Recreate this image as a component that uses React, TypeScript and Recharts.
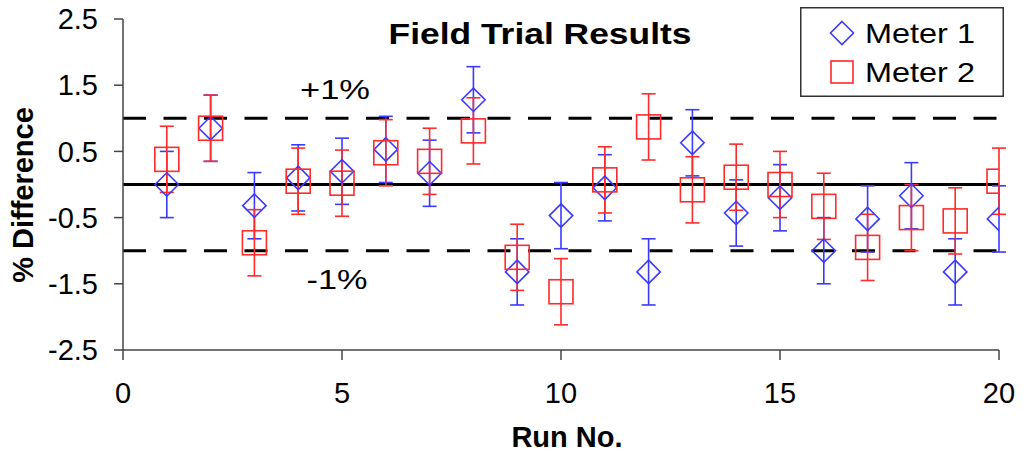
import React from 'react';
import {
  ScatterChart,
  Scatter,
  XAxis,
  YAxis,
  ReferenceLine,
  ErrorBar,
  Legend,
  Customized,
} from 'recharts';

const runs = [1, 2, 3, 4, 5, 6, 7, 8, 9, 10, 11, 12, 13, 14, 15, 16, 17, 18, 19, 20];
const meter1 = [0.0, 0.85, -0.32, 0.1, 0.2, 0.53, 0.17, 1.28, -1.32, -0.47, -0.05, -1.32, 0.63, -0.43, -0.2, -1.0, -0.52, -0.17, -1.32, -0.52];
const meter2 = [0.38, 0.85, -0.88, 0.05, 0.02, 0.48, 0.35, 0.81, -1.1, -1.62, 0.07, 0.87, -0.08, 0.11, 0.0, -0.33, -0.95, -0.5, -0.55, 0.05];
const err1 = [0.5, 0.5, 0.5, 0.5, 0.5, 0.5, 0.5, 0.5, 0.5, 0.5, 0.5, 0.5, 0.5, 0.5, 0.5, 0.5, 0.5, 0.5, 0.5, 0.5];
const err2 = [0.5, 0.5, 0.5, 0.5, 0.5, 0.5, 0.5, 0.5, 0.5, 0.5, 0.5, 0.5, 0.5, 0.5, 0.5, 0.5, 0.5, 0.5, 0.5, 0.5];
const xTicks = [0, 5, 10, 15, 20];
const yTicks = [-2.5, -1.5, -0.5, 0.5, 1.5, 2.5];
const limitLines = [1, -1];
const seriesNames = ['Meter 1', 'Meter 2'];

const BLUE = '#3a3aff';
const RED = '#ff2a2a';
const FONT = '"Liberation Sans", Arial, sans-serif';

const data1 = runs.map((r, i) => ({ run: r, value: meter1[i], err: err1[i] }));
const data2 = runs.map((r, i) => ({ run: r, value: meter2[i], err: err2[i] }));

const Diamond = (props: any) => {
  const { cx, cy } = props;
  if (cx == null || cy == null) return null;
  const s = 11.7;
  return (
    <path
      d={`M${cx},${cy - s}L${cx + s},${cy}L${cx},${cy + s}L${cx - s},${cy}Z`}
      fill="none"
      stroke={BLUE}
      strokeWidth={1.6}
    />
  );
};

const Square = (props: any) => {
  const { cx, cy } = props;
  if (cx == null || cy == null) return null;
  const s = 12;
  return <rect x={cx - s} y={cy - s} width={2 * s} height={2 * s} fill="none" stroke={RED} strokeWidth={1.6} />;
};

const LegendBox = () => (
  <svg width={204} height={90} style={{ display: 'block' }}>
    <rect x={0.75} y={0.75} width={202.5} height={88.5} fill="#fff" stroke="#333" strokeWidth={1.5} />
    <path d="M42,14.5L53.5,26L42,37.5L30.5,26Z" fill="none" stroke={BLUE} strokeWidth={1.6} />
    <text x={65} y={36} fontFamily={FONT} fontSize={28} fill="#000" textLength={110} lengthAdjust="spacingAndGlyphs">
      {seriesNames[0]}
    </text>
    <rect x={31} y={54} width={22} height={22} fill="none" stroke={RED} strokeWidth={1.6} />
    <text x={65} y={75} fontFamily={FONT} fontSize={28} fill="#000" textLength={110} lengthAdjust="spacingAndGlyphs">
      {seriesNames[1]}
    </text>
  </svg>
);

const Labels = () => (
  <g fontFamily={FONT}>
    <text x={540} y={44} textAnchor="middle" fontSize={30} fontWeight="bold" fill="#000" textLength={303} lengthAdjust="spacingAndGlyphs">
      Field Trial Results
    </text>
    <text x={335} y={99} textAnchor="middle" fontSize={28} fill="#000" textLength={70} lengthAdjust="spacingAndGlyphs">
      +1%
    </text>
    <text x={337} y={289} textAnchor="middle" fontSize={28} fill="#000" textLength={61} lengthAdjust="spacingAndGlyphs">
      -1%
    </text>
    <text x={567} y={447} textAnchor="middle" fontSize={29} fontWeight="bold" fill="#000">
      Run No.
    </text>
    <text
      x={33}
      y={195}
      textAnchor="middle"
      fontSize={29}
      fontWeight="bold"
      fill="#000"
      transform="rotate(-90 33 195)"
    >
      % Difference
    </text>
  </g>
);

export default function App() {
  return (
    <div style={{ position: 'absolute', left: 0, top: 0, background: '#fff' }}>
      <ScatterChart width={1024} height={454} margin={{ top: 19, right: 25, bottom: 44, left: 43 }}>
        <XAxis
          type="number"
          dataKey="run"
          domain={[0, 20]}
          ticks={xTicks}
          interval={0}
          allowDataOverflow
          height={60}
          tickSize={10}
          tickMargin={22}
          axisLine={{ stroke: '#444', strokeWidth: 1.5 }}
          tickLine={{ stroke: '#444', strokeWidth: 1.5 }}
          tick={{ fill: '#000', fontSize: 29, fontFamily: FONT }}
        />
        <YAxis
          type="number"
          dataKey="value"
          domain={[-2.5, 2.5]}
          ticks={yTicks}
          interval={0}
          allowDataOverflow
          width={80}
          tickSize={9}
          tickMargin={16}
          axisLine={{ stroke: '#444', strokeWidth: 1.5 }}
          tickLine={{ stroke: '#444', strokeWidth: 1.5 }}
          tick={{ fill: '#000', fontSize: 29, fontFamily: FONT }}
        />
        <ReferenceLine y={0} stroke="#000" strokeWidth={3} />
        {limitLines.map((v) => (
          <ReferenceLine key={v} y={v} stroke="#000" strokeWidth={3} strokeDasharray="23 17.5" />
        ))}
        <Scatter name={seriesNames[0]} data={data1} dataKey="value" shape={Diamond} isAnimationActive={false}>
          <ErrorBar dataKey="err" direction="y" width={7} stroke={BLUE} strokeWidth={1.6} isAnimationActive={false} />
        </Scatter>
        <Scatter name={seriesNames[1]} data={data2} dataKey="value" shape={Square} isAnimationActive={false}>
          <ErrorBar dataKey="err" direction="y" width={7} stroke={RED} strokeWidth={1.6} isAnimationActive={false} />
        </Scatter>
        <Legend
          layout="vertical"
          align="center"
          verticalAlign="middle"
          content={() => <LegendBox />}
          wrapperStyle={{ position: 'absolute', top: 7, left: 800, width: 204, height: 90, right: 'auto', bottom: 'auto' }}
        />
        <Customized component={Labels} />
      </ScatterChart>
    </div>
  );
}
